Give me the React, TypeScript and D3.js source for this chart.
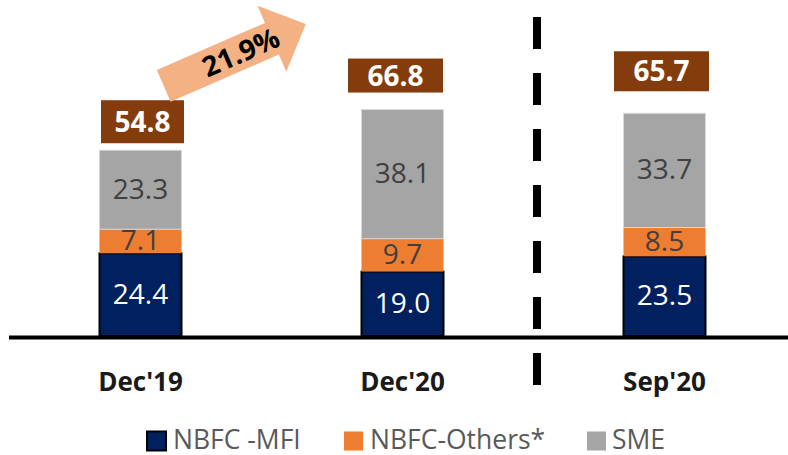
import React from "react";
import * as d3 from "d3";

const categories = ["Dec'19", "Dec'20", "Sep'20"];
const nbfcMfi = [24.4, 19.0, 23.5];
const nbfcOthers = [7.1, 9.7, 8.5];
const sme = [23.3, 38.1, 33.7];
const totals = [54.8, 66.8, 65.7];
const seriesNames = ["NBFC -MFI", "NBFC-Others*", "SME"];
const growthLabel = "21.9%";

const colors = ["#002060", "#ED7D31", "#A5A5A5"];
const labelColors = ["#FFFFFF", "#404040", "#404040"];
const strokes = ["#000000", "none", "#D9D9D9"];

// total-box annotation layout (offset of box bottom above bar top, box size)
const boxLayout = [
  { dx: 2, gap: 7, w: 83, h: 43 },
  { dx: -7, gap: 17, w: 95, h: 34 },
  { dx: -3, gap: 22, w: 95, h: 40 },
];

const W = 788;
const H = 455;
const FONT = "'Open Sans', sans-serif";

export default function App() {
  const rows = categories.map((c, i) => ({
    cat: c,
    mfi: nbfcMfi[i],
    others: nbfcOthers[i],
    sme: sme[i],
  }));
  const keys = ["mfi", "others", "sme"];
  const stacked = d3.stack<any>().keys(keys)(rows);

  const x = d3.scalePoint<string>().domain(categories).range([140.5, 664.5]);
  const y = d3.scaleLinear().domain([0, 80]).range([336, 336 - 80 * 3.39]);
  const bw = 82;

  // arrow geometry (local coordinates)
  const arrowPts: [number, number][] = [
    [0, -17.3],
    [118, -17.3],
    [118, -36],
    [155, 0],
    [118, 36],
    [118, 17.3],
    [0, 17.3],
  ];
  const arrowPath = d3.line()(arrowPts) + "Z";

  const legendItems = [
    { sq: 147, tx: 173 },
    { sq: 344, tx: 370 },
    { sq: 587, tx: 612 },
  ];

  return (
    <svg
      width={W}
      height={H}
      style={{ position: "absolute", left: 0, top: 0, background: "#fff" }}
      fontFamily={FONT}
    >
      {/* dashed separator */}
      <line
        x1={537}
        x2={537}
        y1={17}
        y2={386}
        stroke="#000"
        strokeWidth={8}
        strokeDasharray="32 24"
      />

      {/* bars */}
      {stacked.map((layer, li) => (
        <g key={layer.key}>
          {layer.map((d, i) => {
            const x0 = (x(categories[i]) as number) - bw / 2;
            const yTop = y(d[1]);
            const yBot = y(d[0]);
            const v = d[1] - d[0];
            return (
              <g key={i}>
                <rect
                  x={x0}
                  y={yTop}
                  width={bw}
                  height={yBot - yTop}
                  fill={colors[li]}
                  stroke={strokes[li]}
                  strokeWidth={li === 0 ? 2 : 1}
                />
                <text
                  x={x0 + bw / 2}
                  y={(yTop + yBot) / 2 + 9}
                  textAnchor="middle"
                  fontSize={28}
                  fill={labelColors[li]}
                >
                  {v.toFixed(1)}
                </text>
              </g>
            );
          })}
        </g>
      ))}

      {/* axis line */}
      <line x1={9} x2={788} y1={337.5} y2={337.5} stroke="#000" strokeWidth={4} />

      {/* category labels */}
      {categories.map((c) => (
        <text
          key={c}
          x={x(c) as number}
          y={391}
          textAnchor="middle"
          fontSize={26}
          fontWeight={700}
          fill="#1a1a1a"
        >
          {c}
        </text>
      ))}

      {/* total boxes */}
      {categories.map((c, i) => {
        const L = boxLayout[i];
        const cx = (x(c) as number) + L.dx;
        const bottom = y(totals[i]) - L.gap;
        const top = bottom - L.h;
        return (
          <g key={c}>
            <rect x={cx - L.w / 2} y={top} width={L.w} height={L.h} fill="#843C0C" />
            <text
              x={cx}
              y={(top + bottom) / 2 + 10}
              textAnchor="middle"
              fontSize={28}
              fontWeight={700}
              fill="#fff"
            >
              {totals[i].toFixed(1)}
            </text>
          </g>
        );
      })}

      {/* growth arrow */}
      <g transform="translate(163.7,85.8) rotate(-23.5)">
        <path d={arrowPath} fill="#F4B183" />
        <text x={84} y={10} textAnchor="middle" fontSize={28} fontWeight={700} fill="#000">
          {growthLabel}
        </text>
      </g>

      {/* legend */}
      {seriesNames.map((n, i) => (
        <g key={n}>
          <rect
            x={legendItems[i].sq}
            y={431.5}
            width={19}
            height={19}
            fill={colors[i]}
            stroke={i === 0 ? "#000" : "none"}
            strokeWidth={2}
          />
          <text x={legendItems[i].tx} y={448.5} fontSize={26.5} fill="#595959">
            {n}
          </text>
        </g>
      ))}
    </svg>
  );
}
